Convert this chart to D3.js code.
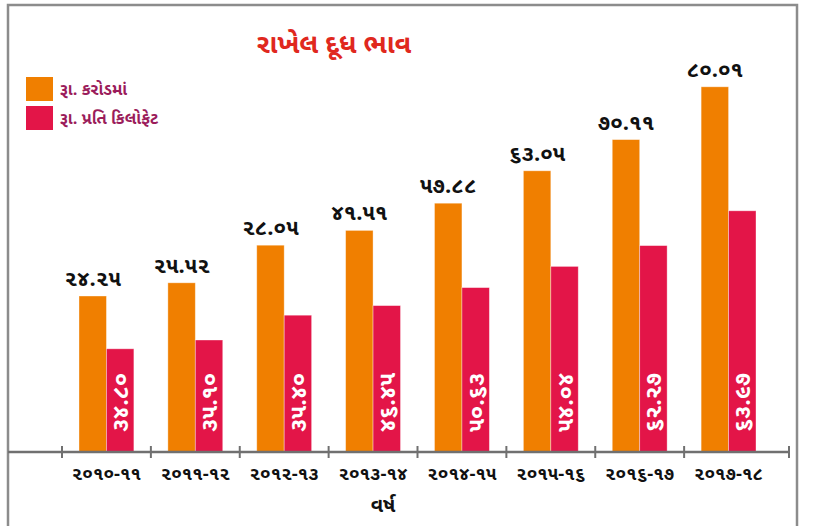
<!DOCTYPE html>
<html lang="gu">

<head>
    <meta charset="UTF-8">
    <title>રાખેલ દૂધ ભાવ</title>
    <script src="https://d3js.org/d3.v7.min.js"></script>
    <style>
        body,
        html {
            margin: 0;
            padding: 0;
            overflow: hidden;
            background: #fff;
        }

        text {
            font-family: "Noto Sans Gujarati", "Lohit Gujarati", "Noto Sans", sans-serif;
            font-weight: bold;
        }
    </style>
</head>

<body>
    <svg width="814" height="526" id="chart"></svg>
    <script>
        const years = ["૨૦૧૦-૧૧", "૨૦૧૧-૧૨", "૨૦૧૨-૧૩", "૨૦૧૩-૧૪", "૨૦૧૪-૧૫", "૨૦૧૫-૧૬", "૨૦૧૬-૧૭", "૨૦૧૭-૧૮"];
        const series = ["રૂા. કરોડમાં", "રૂા. પ્રતિ કિલોફેટ"];
        // printed labels
        const croreLabels = ["૨૪.૨૫", "૨૫.૫૨", "૨૮.૦૫", "૪૧.૫૧", "૫૭.૮૮", "૬૩.૦૫", "૭૦.૧૧", "૮૦.૦૧"];
        const perKgLabels = ["૩૪.૮૦", "૩૫.૧૦", "૩૫.૪૦", "૪૬.૪૫", "૫૦.૬૩", "૫૪.૦૪", "૬૨.૨૭", "૬૩.૯૭"];
        // bar lengths as drawn in the picture (hidden axis, 0-100)
        const croreHeights = [39.0, 42.3, 51.7, 55.4, 62.2, 70.3, 78.1, 91.3];
        const perKgHeights = [25.8, 28.0, 34.2, 36.6, 41.1, 46.4, 51.6, 60.3];
        const colors = ["#f07f00", "#e31548"];

        const svg = d3.select("#chart");
        const baseY = 452;

        // outer frame
        svg.append("rect")
            .attr("x", 8).attr("y", 5)
            .attr("width", 789).attr("height", 560)
            .attr("fill", "none")
            .attr("stroke", "#8c8c8c")
            .attr("stroke-width", 2.5);

        const x = d3.scaleBand().domain(years).range([62, 773]).padding(0);
        const x1 = d3.scaleBand().domain(series).range([17, x.bandwidth() - 17]).padding(0);
        const y = d3.scaleLinear().domain([0, 100]).range([baseY, 52]);

        const rows = years.map((yr, i) => ({
            year: yr,
            vals: [
                { s: series[0], h: croreHeights[i], label: croreLabels[i] },
                { s: series[1], h: perKgHeights[i], label: perKgLabels[i] }
            ]
        }));

        const groups = svg.append("g").selectAll("g")
            .data(rows)
            .join("g")
            .attr("transform", d => `translate(${x(d.year)},0)`);

        groups.selectAll("rect")
            .data(d => d.vals)
            .join("rect")
            .attr("x", d => x1(d.s))
            .attr("y", d => y(d.h))
            .attr("width", x1.bandwidth())
            .attr("height", d => y(0) - y(d.h))
            .attr("fill", (d, i) => colors[i])
            .attr("stroke", "rgba(255,255,255,0.45)")
            .attr("stroke-width", 0.8);

        // labels above orange bars
        groups.append("text")
            .attr("x", x1(series[0]) + x1.bandwidth() / 2)
            .attr("y", d => y(d.vals[0].h) - 10)
            .attr("text-anchor", "middle")
            .attr("font-size", 22)
            .attr("fill", "#111")
            .text(d => d.vals[0].label);

        // rotated labels inside red bars
        groups.append("text")
            .attr("transform", d => `translate(${x1(series[1]) + x1.bandwidth() / 2 + 8},${baseY - 20}) rotate(-90)`)
            .attr("text-anchor", "start")
            .attr("font-size", 23)
            .attr("fill", "#fff")
            .text(d => d.vals[1].label);

        // x axis
        const axis = svg.append("g");
        axis.append("line")
            .attr("x1", 8).attr("x2", 789)
            .attr("y1", baseY).attr("y2", baseY)
            .attr("stroke", "#707070").attr("stroke-width", 2.5);

        const tickPos = years.map(d => x(d)).concat([789]);
        axis.selectAll(".tick")
            .data(tickPos)
            .join("line")
            .attr("class", "tick")
            .attr("x1", d => d).attr("x2", d => d)
            .attr("y1", baseY - 6).attr("y2", baseY + 6)
            .attr("stroke", "#707070").attr("stroke-width", 2);

        axis.selectAll(".tl")
            .data(years)
            .join("text")
            .attr("class", "tl")
            .attr("x", d => x(d) + x.bandwidth() / 2)
            .attr("y", 480)
            .attr("text-anchor", "middle")
            .attr("font-size", 18.5)
            .attr("fill", "#111")
            .text(d => d);

        svg.append("text")
            .attr("x", 383).attr("y", 512)
            .attr("text-anchor", "middle")
            .attr("font-size", 20)
            .attr("fill", "#111")
            .text("વર્ષ");

        // title
        svg.append("text")
            .attr("x", 334).attr("y", 53)
            .attr("text-anchor", "middle")
            .attr("font-size", 27)
            .attr("fill", "#e0281e")
            .text("રાખેલ દૂધ ભાવ");

        // legend
        const legend = svg.append("g").selectAll("g")
            .data(series)
            .join("g")
            .attr("transform", (d, i) => `translate(26,${77 + i * 29})`);
        legend.append("rect")
            .attr("width", 27).attr("height", 24)
            .attr("fill", (d, i) => colors[i]);
        legend.append("text")
            .attr("x", 34).attr("y", 18)
            .attr("font-size", 16.5)
            .attr("fill", "#9b1c5b")
            .text(d => d);
    </script>
</body>

</html>
